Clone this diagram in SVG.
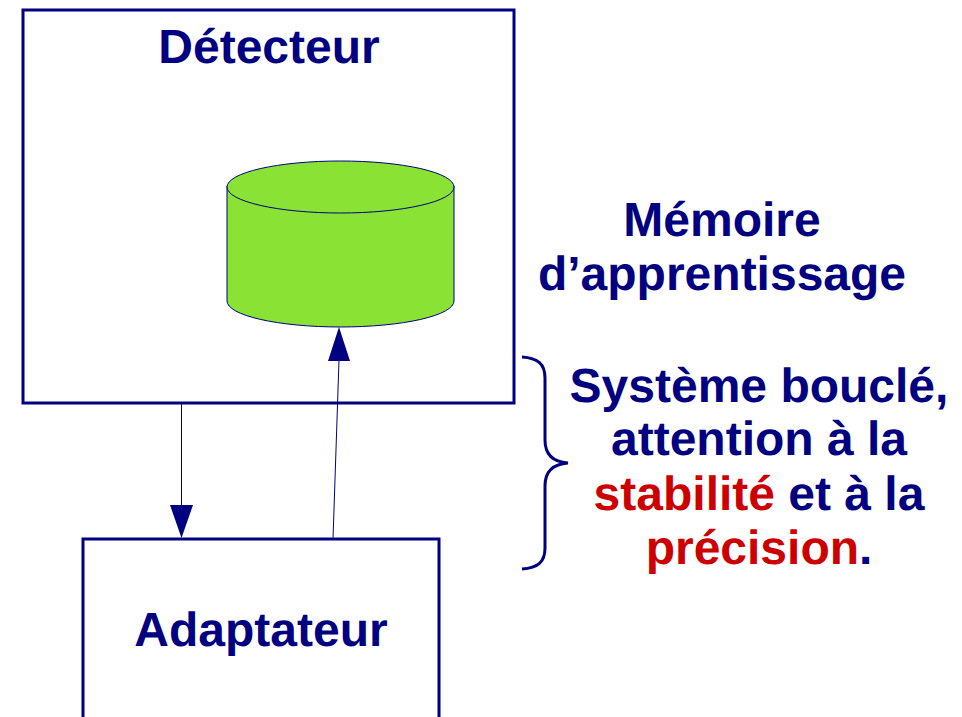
<svg xmlns="http://www.w3.org/2000/svg" width="962" height="717" viewBox="0 0 962 717">
<style>
.box{fill:#fff;stroke:#000080;stroke-width:3}
.t{font-family:"Liberation Sans",Arial,sans-serif;font-weight:bold;font-size:48px;fill:#000080;text-anchor:middle;text-rendering:geometricPrecision}
.r{fill:#cc0000}
.ln{fill:none;stroke:#000080;stroke-width:1}
.ah{fill:#000080;stroke:none}
</style>
<rect width="962" height="717" fill="#fff"/>
<g id="detecteur"><rect class="box" x="23" y="10" width="491" height="393"/><text class="t" x="269" y="63">Détecteur</text></g>
<g id="memoire-cylindre">
<path d="M227 186V301A113.500 26 0 0 0 454 301V186Z" fill="#8ae234" stroke="#000080" stroke-width="1"/>
<ellipse cx="340.500" cy="187" rx="113.500" ry="26" fill="#8ae234" stroke="#000080" stroke-width="1"/>
</g>
<g id="adaptateur"><rect class="box" x="83" y="539" width="356" height="200"/><text class="t" x="261" y="646">Adaptateur</text></g>
<g id="connectors">
<line class="ln" x1="181.500" y1="403" x2="181.500" y2="506"/><polygon class="ah" points="170,505 193,505 181.500,538"/>
<line class="ln" x1="333" y1="539" x2="339" y2="360"/><polygon class="ah" points="328,361 350,361 339,327"/>
</g>
<g id="accolade"><path d="M522 357C538 358 545 364 545 378V440C545 455 553 462 568 463C553 464 545 471 545 486V548C545 562 538 568 522 569" fill="none" stroke="#000080" stroke-width="3"/></g>
<g id="textes">
<text class="t" x="722" y="236">Mémoire</text>
<text class="t" x="722" y="290">d’apprentissage</text>
<text class="t" x="759" y="402">Système bouclé,</text>
<text class="t" x="759" y="455">attention à la</text>
<text class="t" x="759" y="510"><tspan class="r">stabilité</tspan> et à la</text>
<text class="t" x="759" y="564"><tspan class="r">précision</tspan>.</text>
</g>
</svg>
